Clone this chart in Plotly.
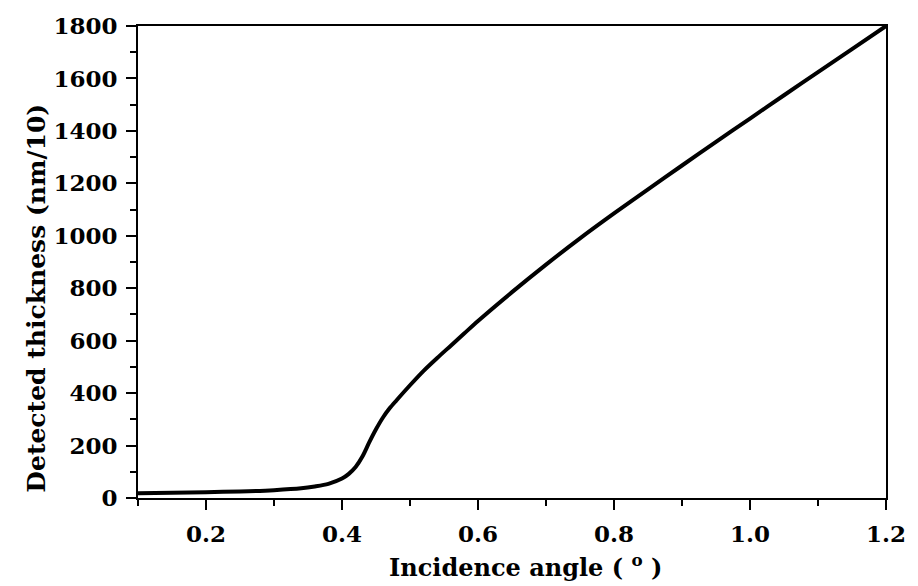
import plotly.graph_objects as go

angle = [0.10, 0.15, 0.20, 0.25, 0.30, 0.34, 0.36, 0.38, 0.40, 0.41, 0.42, 0.43,
         0.44, 0.45, 0.46, 0.47, 0.48, 0.50, 0.52, 0.54, 0.56, 0.58, 0.60, 0.65,
         0.70, 0.75, 0.80, 0.85, 0.90, 0.95, 1.00, 1.05, 1.10, 1.15, 1.20]
thickness = [18, 20, 22, 25, 30, 37, 44, 54, 74, 92, 118, 158,
             212, 262, 306, 342, 372, 430, 485, 534, 581, 628, 675, 785,
             890, 990, 1085, 1177, 1268, 1358, 1447, 1536, 1624, 1712, 1800]

x_ticks = [0.2, 0.4, 0.6, 0.8, 1.0, 1.2]
y_ticks = [0, 200, 400, 600, 800, 1000, 1200, 1400, 1600, 1800]

font_family = "DejaVu Serif"

fig = go.Figure()
fig.add_trace(go.Scatter(x=angle, y=thickness, mode="lines",
                         line=dict(color="black", width=4, shape="spline", smoothing=0.8),
                         showlegend=False))

axis_common = dict(
    showgrid=False, zeroline=False, showline=True, linecolor="black", linewidth=2,
    mirror=True, ticks="outside", ticklen=10, tickwidth=2, tickcolor="black",
    ticklabelstandoff=4,
    tickfont=dict(family=font_family, size=23, color="black", weight="bold"),
)

fig.update_xaxes(
    range=[0.1, 1.2], tickvals=x_ticks, ticktext=[f"{v:.1f}" for v in x_ticks],
    minor=dict(dtick=0.1, tick0=0.1, ticks="outside", ticklen=6, tickwidth=2, tickcolor="black"),
    **axis_common,
)
fig.update_yaxes(
    range=[0, 1800], tickvals=y_ticks, ticktext=[str(v) for v in y_ticks],
    minor=dict(dtick=100, ticks="outside", ticklen=6, tickwidth=2, tickcolor="black"),
    **axis_common,
)

title_font = dict(family=font_family, color="black", weight="bold")
fig.add_annotation(text="Incidence angle ( <sup>o</sup> )", xref="paper", yref="paper",
                   x=0.5186, y=-0.1435, xanchor="center", yanchor="middle",
                   showarrow=False, font=dict(size=24, **title_font))
fig.add_annotation(text="Detected thickness (nm/10)", xref="paper", yref="paper",
                   x=-0.1353, y=0.424, xanchor="center", yanchor="middle", textangle=-90,
                   showarrow=False, font=dict(size=25, **title_font))

fig.update_layout(
    width=918, height=586,
    margin=dict(l=138, r=26, t=24, b=88),
    plot_bgcolor="white", paper_bgcolor="white",
)

fig.write_html("out.html")
